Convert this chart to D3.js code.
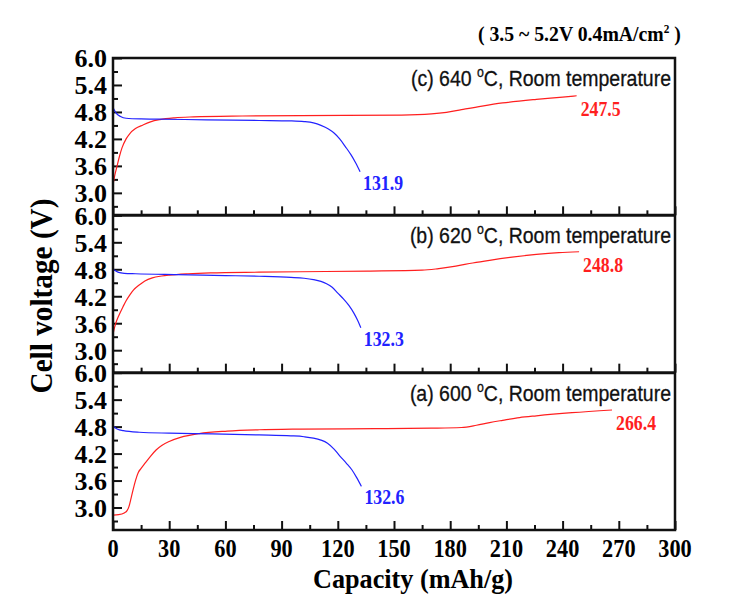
<!DOCTYPE html>
<html>
<head>
<meta charset="utf-8">
<script src="https://cdn.jsdelivr.net/npm/d3@7/dist/d3.min.js"></script>
<style>
  html, body { margin: 0; padding: 0; background: #fff; }
  svg { display: block; }
</style>
</head>
<body>
<svg id="chart" width="733" height="608"></svg>
<script>
// ---------- DATA ----------
const xTickValues = [0, 30, 60, 90, 120, 150, 180, 210, 240, 270, 300];
const xMinorValues = [15, 45, 75, 105, 135, 165, 195, 225, 255, 285];
const yTickValues = [3.0, 3.6, 4.2, 4.8, 5.4, 6.0];
const yMinorValues = [2.7, 3.3, 3.9, 4.5, 5.1, 5.7];

const panelLabels = ["(c) 640 ", "(b) 620 ", "(a) 600 "];
const panelLabelTail = "C, Room temperature";
const chargeCapacities = [247.5, 248.8, 266.4];
const dischargeCapacities = [131.9, 132.3, 132.6];

// (c) 640 °C
const chargeC = [[0,3.17],[1,3.4],[2,3.57],[3.5,3.82],[4.8,4.0],[7,4.2],[9,4.32],[12,4.43],[16,4.51],[20,4.58],[25,4.63],[33,4.67],[43,4.69],[69,4.71],[100,4.72],[154,4.73],[170,4.755],[178,4.79],[186,4.85],[197,4.93],[208,5.0],[226,5.08],[240,5.13],[247.5,5.16]];
const dischargeC = [[0,4.9],[1,4.82],[2,4.76],[4,4.7],[7,4.66],[15,4.645],[25,4.64],[50,4.625],[78,4.61],[95,4.6],[102,4.585],[107,4.555],[111,4.5],[115,4.42],[118,4.33],[121,4.2],[124,4.03],[127,3.85],[129.5,3.67],[131.9,3.47]];
// (b) 620 °C
const chargeB = [[0,3.35],[0.8,3.5],[1.5,3.6],[3,3.76],[5.5,3.98],[7,4.1],[9,4.23],[11,4.34],[14,4.45],[17,4.54],[21,4.61],[26,4.65],[30,4.67],[40,4.7],[52,4.72],[78,4.735],[100,4.745],[136,4.76],[165,4.78],[173,4.81],[183,4.87],[192,4.94],[201,5.0],[213,5.07],[226,5.13],[238,5.17],[248.8,5.19]];
const dischargeB = [[0,4.8],[1.5,4.76],[3,4.73],[6,4.71],[12,4.7],[34,4.68],[60,4.66],[78,4.645],[95,4.62],[102,4.6],[107,4.57],[111,4.53],[114,4.48],[117,4.4],[120,4.27],[123,4.14],[126,3.99],[128.5,3.83],[130.5,3.67],[132.3,3.5]];
// (a) 600 °C
const chargeA = [[0,2.83],[3,2.84],[6,2.88],[7.5,2.93],[8.5,3.02],[10,3.27],[12,3.6],[13.5,3.78],[15,3.87],[17,3.98],[20,4.14],[23,4.28],[26,4.38],[30,4.47],[36,4.56],[46,4.645],[61,4.7],[78,4.73],[100,4.745],[140,4.755],[170,4.765],[186,4.78],[194,4.83],[201,4.89],[208,4.94],[217,5.0],[226,5.04],[245,5.11],[266.4,5.17]];
const dischargeA = [[0,4.82],[1,4.78],[2.5,4.74],[5.5,4.71],[14,4.675],[30,4.655],[43,4.645],[78,4.615],[95,4.595],[102,4.575],[107,4.545],[111,4.5],[114.5,4.43],[118,4.3],[121,4.15],[124.5,3.99],[127.5,3.84],[130,3.67],[132.6,3.47]];

const chargeSeries = [chargeC, chargeB, chargeA];
const dischargeSeries = [dischargeC, dischargeB, dischargeA];

const noteText = "( 3.5 ~ 5.2V 0.4mA/cm";
const xTitle = "Capacity (mAh/g)";
const yTitle = "Cell voltage (V)";

(function () {
// ---------- LAYOUT ----------
const svg = d3.select("#chart");
const mLeft = 113, mRight = 675, mTop = 58, mBottom = 530;
const panelH = (mBottom - mTop) / 3;
const serif = "'Liberation Serif', 'Times New Roman', serif";
const sans = "'Liberation Sans', Arial, sans-serif";
const red = "#ff1f1f", blue = "#2222ff";

const x = d3.scaleLinear().domain([0, 300]).range([mLeft, mRight]);
const curve = d3.curveMonotoneX;

for (let i = 0; i < 3; i++) {
  const pTop = mTop + i * panelH;
  const pBot = pTop + panelH;
  const y = d3.scaleLinear().domain([2.5, 6.0]).range([pBot, pTop]);
  const g = svg.append("g");

  const xMaj = g.append("g").attr("transform", `translate(0,${pBot})`)
    .call(d3.axisBottom(x).tickValues(xTickValues).tickSize(-9).tickFormat(""));
  const xMin = g.append("g").attr("transform", `translate(0,${pBot})`)
    .call(d3.axisBottom(x).tickValues(xMinorValues).tickSize(-5).tickFormat(""));
  [xMaj, xMin].forEach(a => { a.select(".domain").remove(); a.selectAll("line").attr("stroke", "#111").attr("stroke-width", 2); });

  const yMaj = g.append("g").attr("transform", `translate(${mLeft},0)`)
    .call(d3.axisLeft(y).tickValues(yTickValues).tickSize(-9).tickPadding(6).tickFormat(d3.format(".1f")));
  const yMin = g.append("g").attr("transform", `translate(${mLeft},0)`)
    .call(d3.axisLeft(y).tickValues(yMinorValues).tickSize(-5).tickFormat(""));
  [yMaj, yMin].forEach(a => { a.select(".domain").remove(); a.selectAll("line").attr("stroke", "#111").attr("stroke-width", 2); });
  yMaj.selectAll("text").attr("font-family", serif).attr("font-weight", "bold")
    .attr("font-size", 26).attr("fill", "#000").attr("dy", "0.34em");

  const line = d3.line().x(d => x(d[0])).y(d => y(d[1])).curve(curve);
  g.append("path").datum(chargeSeries[i]).attr("d", line)
    .attr("fill", "none").attr("stroke", red).attr("stroke-width", 1.2);
  g.append("path").datum(dischargeSeries[i]).attr("d", line)
    .attr("fill", "none").attr("stroke", blue).attr("stroke-width", 1.2);

  const cEnd = chargeSeries[i][chargeSeries[i].length - 1];
  const dEnd = dischargeSeries[i][dischargeSeries[i].length - 1];
  g.append("text").attr("x", x(cEnd[0]) + 4).attr("y", y(cEnd[1]) + 20)
    .attr("font-family", serif).attr("font-weight", "bold").attr("font-size", 22)
    .attr("fill", red).attr("textLength", 40).attr("lengthAdjust", "spacingAndGlyphs")
    .text(chargeCapacities[i].toFixed(1));
  g.append("text").attr("x", x(dEnd[0]) + 3).attr("y", y(dEnd[1]) + 18)
    .attr("font-family", serif).attr("font-weight", "bold").attr("font-size", 22)
    .attr("fill", blue).attr("textLength", 40).attr("lengthAdjust", "spacingAndGlyphs")
    .text(dischargeCapacities[i].toFixed(1));

  const lab = g.append("text").attr("transform", `translate(671,${pTop + 28}) scale(0.885,1)`)
    .attr("text-anchor", "end").attr("font-family", sans).attr("font-size", 22)
    .attr("fill", "#111").attr("stroke", "#111").attr("stroke-width", 0.3);
  lab.append("tspan").text(panelLabels[i]);
  lab.append("tspan").attr("dy", -9).attr("font-size", 14).text("o");
  lab.append("tspan").attr("dy", 9).text(panelLabelTail);
}

svg.append("rect").attr("x", mLeft).attr("y", mTop).attr("width", mRight - mLeft).attr("height", mBottom - mTop)
  .attr("fill", "none").attr("stroke", "#111").attr("stroke-width", 2.5);
for (let i = 1; i < 3; i++) {
  svg.append("line").attr("x1", mLeft).attr("x2", mRight)
    .attr("y1", mTop + i * panelH).attr("y2", mTop + i * panelH)
    .attr("stroke", "#111").attr("stroke-width", 3);
}

svg.append("g").selectAll("text").data(xTickValues).join("text")
  .attr("transform", d => `translate(${x(d)},${mBottom + 27}) scale(0.86,1)`)
  .attr("text-anchor", "middle").attr("font-family", serif).attr("font-weight", "bold")
  .attr("font-size", 26).attr("fill", "#000").text(d => d);

svg.append("text").attr("x", 413).attr("y", 588).attr("text-anchor", "middle")
  .attr("font-family", serif).attr("font-weight", "bold").attr("font-size", 28)
  .attr("textLength", 200).attr("lengthAdjust", "spacingAndGlyphs").attr("fill", "#000")
  .text(xTitle);
svg.append("text").attr("transform", "translate(52,296) rotate(-90)").attr("text-anchor", "middle")
  .attr("font-family", serif).attr("font-weight", "bold").attr("font-size", 31)
  .attr("textLength", 195).attr("lengthAdjust", "spacingAndGlyphs").attr("fill", "#000")
  .text(yTitle);

const note = svg.append("text").attr("transform", "translate(478,41) scale(0.94,1)")
  .attr("font-family", serif).attr("font-weight", "bold").attr("font-size", 21).attr("fill", "#000");
note.append("tspan").text(noteText);
note.append("tspan").attr("dy", -8).attr("font-size", 12).text("2");
note.append("tspan").attr("dy", 8).text(" )");
})();
</script>
</body>
</html>
